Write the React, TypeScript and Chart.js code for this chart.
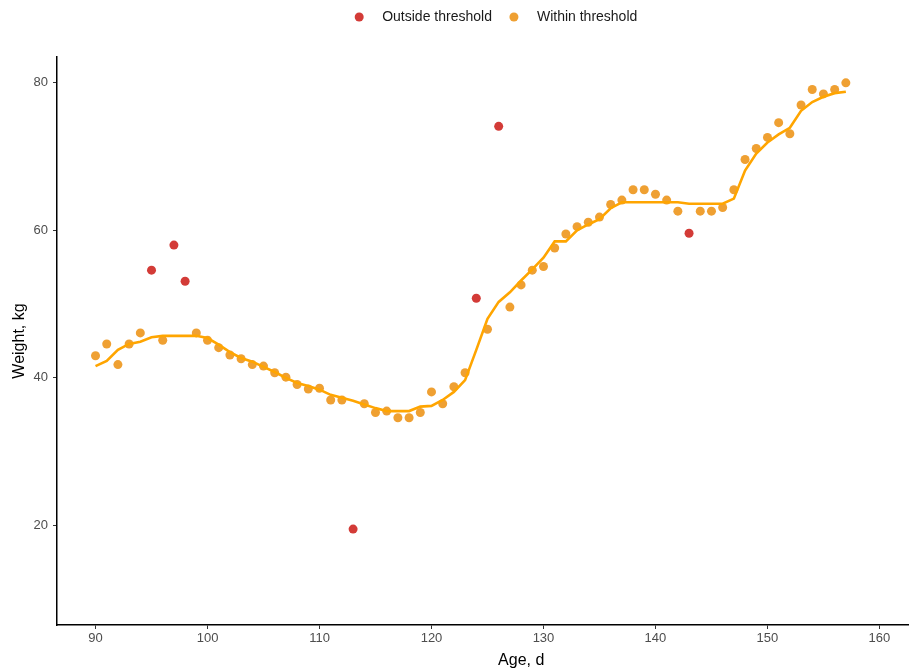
import React, { useEffect, useRef } from "react";
import { Chart, registerables } from "chart.js";

Chart.register(...registerables);

const ages = [
  90, 91, 92, 93, 94, 95, 96, 97, 98, 99, 100, 101, 102, 103, 104, 105, 106, 107, 108, 109,
  110, 111, 112, 113, 114, 115, 116, 117, 118, 119, 120, 121, 122, 123, 124, 125, 126, 127, 128, 129,
  130, 131, 132, 133, 134, 135, 136, 137, 138, 139, 140, 141, 142, 143, 144, 145, 146, 147, 148, 149,
  150, 151, 152, 153, 154, 155, 156, 157,
];

const weights = [
  43.0, 44.6, 41.8, 44.6, 46.1, 54.6, 45.1, 58.0, 53.1, 46.1, 45.1, 44.1, 43.1, 42.6, 41.8, 41.6, 40.7, 40.1, 39.1, 38.5,
  38.6, 37.0, 37.0, 19.5, 36.5, 35.3, 35.5, 34.6, 34.6, 35.3, 38.1, 36.5, 38.8, 40.7, 50.8, 46.6, 74.1, 49.6, 52.6, 54.6,
  55.1, 57.6, 59.5, 60.5, 61.1, 61.8, 63.5, 64.1, 65.5, 65.5, 64.9, 64.1, 62.6, 59.6, 62.6, 62.6, 63.1, 65.5, 69.6, 71.1,
  72.6, 74.6, 73.1, 77.0, 79.1, 78.5, 79.1, 80.0,
];

const outsideAges = [95, 97, 98, 113, 124, 126, 143];

const smoothed = [
  41.6, 42.3, 43.8, 44.6, 44.9, 45.5, 45.7, 45.7, 45.7, 45.7, 45.4, 44.5, 43.5, 42.7, 42.2, 41.5, 40.8, 40.0, 39.3, 38.9,
  38.4, 37.7, 37.3, 36.9, 36.4, 35.9, 35.5, 35.5, 35.5, 36.1, 36.2, 37.0, 38.1, 39.7, 43.8, 48.0, 50.3, 51.6, 53.2, 54.7,
  56.3, 58.5, 58.5, 60.0, 60.8, 61.5, 63.0, 63.8, 63.8, 63.8, 63.8, 63.8, 63.8, 63.6, 63.6, 63.6, 63.6, 64.3, 68.1, 70.4,
  71.9, 73.0, 73.9, 76.2, 77.4, 78.1, 78.6, 78.8,
];

const xTicks = [90, 100, 110, 120, 130, 140, 150, 160];
const yTicks = [20, 40, 60, 80];

const legendLabels = ["Outside threshold", "Within threshold"];
const RED = "#D33B37";
const ORANGE_PT = "#EFA032";
const ORANGE_LINE = "#FFA500";

const FONT = '"Liberation Sans", Arial, sans-serif';

const legendPlugin = {
  id: "customLegend",
  afterDraw(chart: any) {
    const ctx = chart.ctx;
    ctx.save();
    ctx.font = `14px ${FONT}`;
    ctx.textBaseline = "middle";
    const colors = [RED, ORANGE_PT];
    const widths = legendLabels.map((l) => ctx.measureText(l).width);
    const r = 4.5;
    const dotToText = 23;
    const itemGap = 22;
    const total = r + dotToText + widths[0] + itemGap + dotToText + widths[1];
    const cx = 496;
    let x = cx - total / 2 + r;
    const y = 17;
    legendLabels.forEach((label, i) => {
      ctx.beginPath();
      ctx.fillStyle = colors[i];
      ctx.arc(x, y, r, 0, Math.PI * 2);
      ctx.fill();
      ctx.fillStyle = "#1A1A1A";
      ctx.textAlign = "left";
      ctx.fillText(label, x + dotToText, y);
      x = x + dotToText + widths[i] + itemGap;
    });
    ctx.restore();
  },
};

export default function App() {
  const ref = useRef<HTMLCanvasElement | null>(null);

  useEffect(() => {
    document.body.style.margin = "0";
    const canvas = ref.current;
    if (!canvas) return;

    const outsideData: { x: number; y: number }[] = [];
    const withinData: { x: number; y: number }[] = [];
    ages.forEach((a, i) => {
      if (outsideAges.includes(a)) outsideData.push({ x: a, y: weights[i] });
      else withinData.push({ x: a, y: weights[i] });
    });
    const lineData = ages.map((a, i) => ({ x: a, y: smoothed[i] }));

    const tickFont = { family: FONT, size: 13 };
    const titleFont = { family: FONT, size: 16 };

    const chart = new Chart(canvas, {
      type: "scatter",
      data: {
        datasets: [
          {
            label: "Smoothed",
            type: "line",
            data: lineData,
            borderColor: ORANGE_LINE,
            borderWidth: 2.6,
            pointRadius: 0,
            fill: false,
            tension: 0,
            order: 0,
          } as any,
          {
            label: legendLabels[0],
            data: outsideData,
            backgroundColor: RED,
            borderWidth: 0,
            pointRadius: 4.5,
            order: 1,
          },
          {
            label: legendLabels[1],
            data: withinData,
            backgroundColor: ORANGE_PT,
            borderWidth: 0,
            pointRadius: 4.5,
            order: 2,
          },
        ],
      },
      options: {
        responsive: false,
        animation: false,
        devicePixelRatio: 1,
        layout: { padding: { top: 57, left: 0, right: 0, bottom: 0 } },
        plugins: {
          legend: { display: false },
          tooltip: { enabled: false },
        },
        scales: {
          x: {
            type: "linear",
            min: 86.56,
            max: 169.47,
            afterBuildTicks: (scale: any) => {
              scale.ticks = xTicks.map((v) => ({ value: v }));
            },
            afterFit: (scale: any) => {
              scale.height = 47;
            },
            grid: {
              display: true,
              drawOnChartArea: false,
              drawTicks: true,
              tickLength: 4,
              color: "#333333",
              lineWidth: 1,
            },
            border: { display: true, color: "#000000", width: 1.5 },
            ticks: {
              autoSkip: false,
              maxRotation: 0,
              padding: 2,
              color: "#4D4D4D",
              font: tickFont,
              callback: (v: any) => String(v),
            },
            title: {
              display: true,
              text: "Age, d",
              color: "#000000",
              font: titleFont,
              padding: { top: 0, bottom: 2 },
            },
          },
          y: {
            type: "linear",
            min: 6.5,
            max: 83.5,
            afterBuildTicks: (scale: any) => {
              scale.ticks = yTicks.map((v) => ({ value: v }));
            },
            afterFit: (scale: any) => {
              scale.width = 57;
            },
            grid: {
              display: true,
              drawOnChartArea: false,
              drawTicks: true,
              tickLength: 4,
              color: "#333333",
              lineWidth: 1,
            },
            border: { display: true, color: "#000000", width: 1.5 },
            ticks: {
              autoSkip: false,
              padding: 5,
              color: "#4D4D4D",
              font: tickFont,
              callback: (v: any) => String(v),
            },
            title: {
              display: true,
              text: "Weight, kg",
              color: "#000000",
              font: titleFont,
              padding: { top: 10, bottom: 0 },
            },
          },
        },
      },
      plugins: [legendPlugin],
    });

    return () => chart.destroy();
  }, []);

  return (
    <div
      style={{
        position: "fixed",
        left: 0,
        top: 0,
        width: 909,
        height: 672,
        overflow: "hidden",
        background: "#ffffff",
      }}
    >
      <canvas ref={ref} width={990} height={672} style={{ width: 990, height: 672, display: "block" }} />
    </div>
  );
}
